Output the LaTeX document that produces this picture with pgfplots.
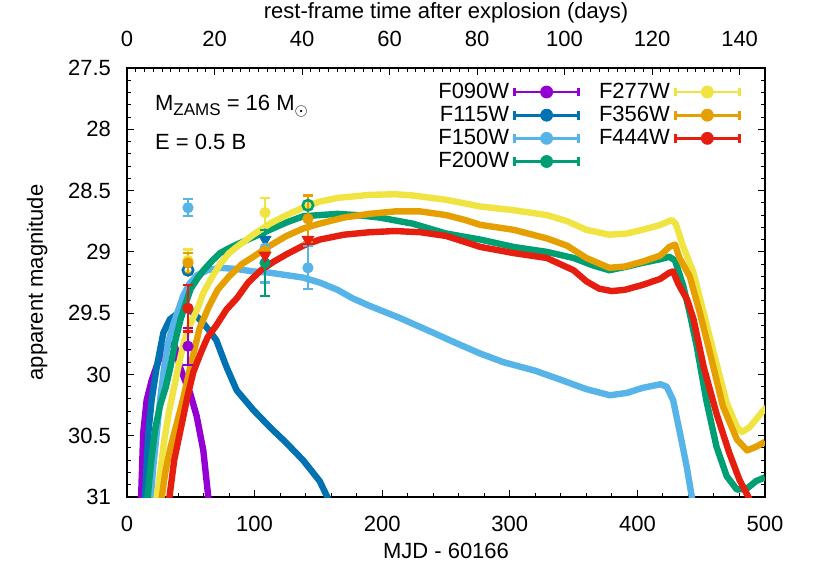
\documentclass[border=0pt]{standalone}
\usepackage{fontspec}
\setmainfont{Liberation Sans}
\usepackage{pgfplots}
\pgfplotsset{compat=1.18}

\definecolor{c090}{HTML}{9400D3}
\definecolor{c115}{HTML}{0072B2}
\definecolor{c150}{HTML}{56B4E9}
\definecolor{c200}{HTML}{009E73}
\definecolor{c277}{HTML}{F0E442}
\definecolor{c356}{HTML}{E69F00}
\definecolor{c444}{HTML}{E51E10}

% legend sample: bar with end caps and a dot
\newcommand{\legimg}[1]{\addlegendimage{legend image code/.code={%
  \draw[#1,line width=1.4pt] (0pt,0pt) -- (32pt,0pt);
  \draw[#1,line width=1.4pt] (0pt,-2.2pt) -- (0pt,2.2pt);
  \draw[#1,line width=1.4pt] (32pt,-2.2pt) -- (32pt,2.2pt);
  \fill[#1] (16pt,0pt) circle (3pt);}}}

\pgfplotsset{
  lc/.style={line width=3.2pt, color=#1, line join=round, forget plot},
  pt/.style={only marks, mark=*, mark size=2.6pt, color=#1, forget plot,
    error bars/.cd, y dir=both, y explicit,
    error bar style={line width=1.1pt, color=#1},
    error mark options={rotate=90, mark size=2.6pt, line width=1.1pt, color=#1}},
  lim/.style={only marks, mark=triangle*, mark size=3.4pt, color=#1, forget plot,
    mark options={rotate=180}},
  ring/.style={only marks, mark=o, mark size=2.6pt, color=#1, forget plot,
    mark options={line width=1.3pt}},
}

\begin{document}
\begin{tikzpicture}[font=\fontsize{11}{13}\selectfont]
\begin{axis}[
  name=ax, scale only axis, width=319pt, height=214.5pt,
  xmin=0, xmax=500, ymin=27.5, ymax=31, y dir=reverse,
  xtick distance=100, ytick distance=0.5,
  minor x tick num=4, minor y tick num=4,
  tick align=inside, xtick pos=bottom, ytick pos=both,
  major tick length=3.5pt, minor tick length=2pt,
  axis line style={line width=0.7pt}, tick style={line width=0.5pt, black},
  /pgf/number format/assume math mode=true,
  yticklabel style={xshift=-4.5pt},
  xticklabel style={yshift=-6pt},
  xlabel={MJD - 60166}, ylabel={apparent magnitude},
  xlabel style={yshift=1pt}, ylabel style={yshift=3.5pt},
  legend columns=2, legend plot pos=right, legend cell align=right,
  legend style={draw=none, fill=none, at={(0.972,0.985)}, anchor=north east,
    row sep=-1.6pt, /tikz/every even column/.append style={column sep=7.5pt}},
]
% model curves
\addplot[lc=c090] coordinates {(11,31.02)(12.7,30.48)(15.4,30.21)(19.3,30.05)(26,29.85)(31,29.77)(35,29.745)(37.6,29.77)(41.5,29.94)(45.5,30.05)(49.4,30.15)(54.6,30.34)(59.8,30.62)(63.7,31.0)(64.2,31.05)};
\addplot[lc=c115] coordinates {(14,31.02)(16.7,30.48)(19.3,30.21)(23.3,29.94)(28.5,29.66)(33.7,29.55)(40,29.5)(46.8,29.47)(50.7,29.49)(55,29.53)(59.6,29.58)(65,29.65)(70,29.72)(78,29.94)(86,30.13)(99,30.29)(112,30.43)(125,30.56)(138,30.7)(151,30.87)(157,31.0)(158,31.05)};
\addplot[lc=c150] coordinates {(18.5,31.02)(20.6,30.75)(23.3,30.48)(26,30.2)(29,29.95)(32,29.75)(36,29.6)(40,29.48)(44,29.36)(49,29.26)(55,29.19)(63,29.15)(73,29.13)(86,29.14)(99,29.16)(112,29.17)(125,29.19)(138,29.21)(151,29.25)(165,29.31)(177,29.38)(190,29.44)(214,29.54)(240,29.66)(257,29.74)(277,29.83)(295,29.9)(320,29.97)(339,30.04)(360,30.12)(378.5,30.17)(392,30.15)(404,30.11)(418,30.08)(423,30.1)(428,30.21)(433.4,30.48)(438.6,30.75)(443,31.02)};
\addplot[lc=c200] coordinates {(16,31.02)(19,30.7)(22,30.45)(26,30.25)(30.5,30.1)(34,29.94)(38,29.72)(42,29.55)(46,29.42)(50,29.3)(55,29.22)(60,29.15)(67,29.07)(73,29.01)(80,28.97)(86,28.94)(99,28.88)(112,28.82)(125,28.76)(138,28.71)(151,28.7)(165,28.69)(180,28.7)(198,28.72)(224,28.77)(250,28.85)(277,28.9)(303,28.96)(329,29.0)(350,29.05)(365,29.11)(378,29.15)(392,29.12)(404,29.09)(418,29.06)(425,29.04)(429.5,29.07)(436,29.28)(441,29.5)(446.5,29.77)(454,30.21)(462,30.59)(470,30.83)(478,30.94)(486,30.93)(493,30.87)(500,30.84)};
\addplot[lc=c277] coordinates {(23,31.02)(26,30.8)(29,30.55)(33,30.3)(37,30.1)(41,29.9)(45,29.72)(50,29.58)(55,29.47)(60,29.33)(67,29.2)(73,29.1)(80,29.01)(86,28.96)(99,28.86)(112,28.77)(125,28.7)(138,28.64)(151,28.59)(165,28.56)(190,28.535)(210,28.53)(224,28.54)(250,28.575)(277,28.63)(303,28.66)(329,28.7)(345,28.75)(360,28.82)(378,28.86)(392,28.85)(404,28.82)(418,28.78)(427,28.74)(430,28.77)(436,28.96)(444,29.17)(452,29.5)(460,29.83)(470,30.23)(478,30.43)(482,30.47)(488,30.43)(499,30.29)(501,30.27)};
\addplot[lc=c356] coordinates {(27,31.02)(30,30.8)(34,30.6)(39,30.4)(44,30.2)(50,29.92)(57,29.62)(64,29.45)(71,29.31)(80,29.2)(90,29.1)(99,29.04)(112,28.95)(125,28.87)(138,28.81)(151,28.77)(170,28.72)(190,28.69)(210,28.67)(230,28.67)(250,28.7)(265,28.74)(277,28.78)(303,28.82)(329,28.89)(345,28.95)(360,29.05)(378,29.13)(390,29.12)(404,29.08)(418,29.03)(425,28.96)(429.5,28.94)(433,29.05)(441,29.2)(449,29.5)(457,29.83)(467,30.26)(478,30.53)(486,30.62)(493,30.59)(500,30.55)};
\addplot[lc=c444] coordinates {(33,31.02)(37,30.7)(42,30.45)(47,30.2)(52,29.98)(58,29.82)(63,29.7)(70,29.6)(78,29.47)(86,29.38)(95,29.25)(105,29.15)(115,29.08)(125,29.02)(138,28.95)(151,28.9)(170,28.86)(190,28.84)(210,28.83)(230,28.84)(250,28.87)(265,28.92)(277,28.96)(303,29.01)(329,29.05)(350,29.15)(360,29.24)(370,29.3)(380,29.32)(390,29.31)(404,29.27)(418,29.22)(425,29.17)(428,29.16)(432,29.26)(439,29.39)(444,29.55)(452,29.94)(462,30.32)(472,30.64)(480,30.86)(488,31.02)};
% photometry
\addplot[pt=c090] coordinates {(47.8,29.77) +- (0,0.15)};
\addplot[ring=c115] coordinates {(47.8,29.15)};
\addplot[lim=c115] coordinates {(108.2,28.90)};
\addplot[pt=c150] coordinates {(47.8,28.64) +- (0,0.07) (108.2,28.97) +- (0,0.28) (141.8,29.13) +- (0,0.175)};
\addplot[pt=c200] coordinates {(108.2,29.09) +- (0,0.27)};
\addplot[ring=c200] coordinates {(141.8,28.62)};
\addplot[pt=c277] coordinates {(47.8,29.07) +- (0,0.09) (108.2,28.68) +- (0,0.12)};
\addplot[pt=c356] coordinates {(47.8,29.09) +- (0,0.08) (108.2,28.99) +- (0,0.10) (141.8,28.73) +- (0,0.19)};
\addplot[pt=c444] coordinates {(47.8,29.46) +- (0,0.19)};
\addplot[lim=c444] coordinates {(108.2,29.03) (141.8,28.90)};
% legend
\legimg{c090}\addlegendentry{F090W}
\legimg{c277}\addlegendentry{F277W}
\legimg{c115}\addlegendentry{F115W}
\legimg{c356}\addlegendentry{F356W}
\legimg{c150}\addlegendentry{F150W}
\legimg{c444}\addlegendentry{F444W}
\legimg{c200}\addlegendentry{F200W}
\node[anchor=base west] at (rel axis cs:0.033,0.902) {M\raisebox{-0.45ex}{\fontsize{8.5}{9}\selectfont ZAMS} = 16 M\raisebox{-0.45ex}{$\scriptstyle\odot$}};
\node[anchor=base west] at (rel axis cs:0.033,0.811) {E = 0.5 B};
\end{axis}
\begin{axis}[
  scale only axis, width=319pt, height=214.5pt,
  xmin=0, xmax=145.8, ymin=0, ymax=1,
  axis x line*=top, axis y line=none,
  xtick distance=20, minor x tick num=9,
  tick align=inside, xtick pos=upper,
  major tick length=3.5pt, minor tick length=2pt,
  tick style={line width=0.5pt, black}, axis line style={line width=0.7pt},
  /pgf/number format/assume math mode=true,
  xticklabel style={yshift=7pt},
  xlabel={rest-frame time after explosion (days)},
  xlabel style={yshift=-2.5pt},
]
\addplot[draw=none] coordinates {(0,0)};
\end{axis}
\pgfresetboundingbox
\useasboundingbox ([shift={(-63.5pt,-37.5pt)}]ax.south west) rectangle ([shift={(26pt,34pt)}]ax.north east);
\end{tikzpicture}
\end{document}
